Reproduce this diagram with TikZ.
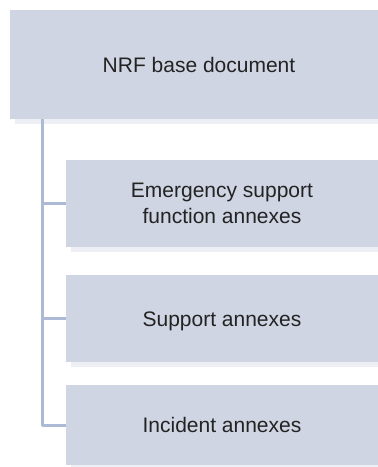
\documentclass[tikz,border=0pt]{standalone}
\usepackage{fontspec}
\setmainfont{Liberation Sans}
\usetikzlibrary{shadows}
\definecolor{panelfill}{RGB}{207,213,227}
\definecolor{panelshade}{RGB}{238,238,245}
\definecolor{linkline}{RGB}{172,186,214}
\definecolor{labeltext}{RGB}{35,35,35}
\tikzset{
  panel/.style={rectangle, fill=panelfill, draw=none, inner sep=0pt,
    text=labeltext, align=center,
    font=\fontsize{21}{26}\selectfont,
    drop shadow={shadow xshift=5pt, shadow yshift=-5pt, fill=panelshade, opacity=1}},
  oneline/.style={text height=15pt, text depth=0pt},
  link/.style={draw=linkline, line width=3pt, line join=round}
}
\begin{document}
\begin{tikzpicture}[x=1pt,y=-1pt]
  \clip (0,0) rectangle (378,467);
  \fill[white] (0,0) rectangle (378,467);
  % main document and its annexes
  \node[panel, oneline, minimum width=378pt, minimum height=109pt] (base) at (199,64.5) {NRF base document};
  \node[panel, minimum width=312pt, minimum height=87pt] (esf) at (222,203.5) {Emergency support\\function annexes};
  \node[panel, oneline, minimum width=312pt, minimum height=87pt] (sup) at (222,318.5) {Support annexes};
  \node[panel, oneline, minimum width=312pt, minimum height=80pt] (inc) at (222,425) {Incident annexes};
  % tree connector from the base document to each annex
  \coordinate (trunk) at (42,119);
  \draw[link] (trunk) |- (esf.west);
  \draw[link] (trunk) |- (sup.west);
  \draw[link] (trunk) |- (inc.west);
\end{tikzpicture}
\end{document}
